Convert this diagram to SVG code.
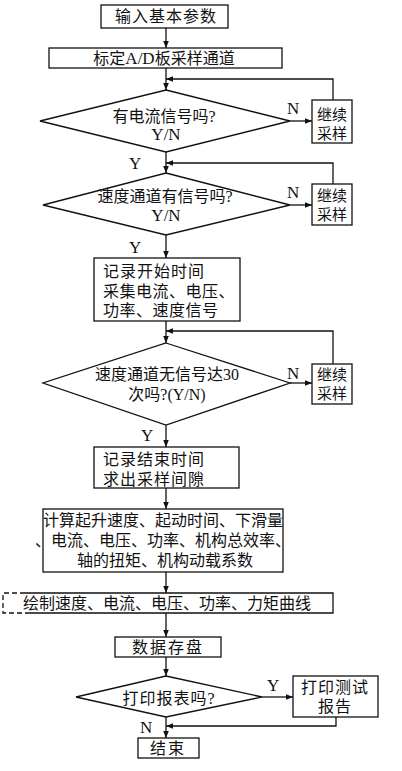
<svg xmlns="http://www.w3.org/2000/svg" width="402" height="771" viewBox="0 0 402 771">
<style>
.b{fill:#fff;stroke:#111;stroke-width:1.3}
.l{fill:none;stroke:#111;stroke-width:1.3}
.t{font-family:"Liberation Serif","Noto Sans CJK SC",serif;font-size:16px;fill:#111}
.s{font-family:"Liberation Serif","Noto Sans CJK SC",serif;font-size:17px;fill:#111}
.k{font-size:15px}
.m{text-anchor:middle}
.r{font-size:17px}
</style>
<defs>
<marker id="a" viewBox="0 0 10 10" refX="10" refY="5" markerWidth="7" markerHeight="7" orient="auto" markerUnits="userSpaceOnUse">
<path d="M0,1 L10,5 L0,9 Z" fill="#111"/>
</marker>
</defs>
<g id="connectors">
<path class="l" d="M166,28 V48" marker-end="url(#a)"/>
<path class="l" d="M166,68 V90" marker-end="url(#a)"/>
<path class="l" d="M290,121 H312" marker-end="url(#a)"/>
<path class="l" d="M333,100 V79 H166" marker-end="url(#a)"/>
<path class="l" d="M166,152 V173" marker-end="url(#a)"/>
<path class="l" d="M290,205 H312" marker-end="url(#a)"/>
<path class="l" d="M333,184 V163 H166" marker-end="url(#a)"/>
<path class="l" d="M166,235 V258" marker-end="url(#a)"/>
<path class="l" d="M166,321 V343" marker-end="url(#a)"/>
<path class="l" d="M290,383 H312" marker-end="url(#a)"/>
<path class="l" d="M333,364 V331 H166" marker-end="url(#a)"/>
<path class="l" d="M166,425 V447" marker-end="url(#a)"/>
<path class="l" d="M166,488 V509" marker-end="url(#a)"/>
<path class="l" d="M166,572 V593" marker-end="url(#a)"/>
<path class="l" d="M166,613 V637" marker-end="url(#a)"/>
<path class="l" d="M166,657 V676" marker-end="url(#a)"/>
<path class="l" d="M262,697 H293" marker-end="url(#a)"/>
<path class="l" d="M336,717 V726 H166" marker-end="url(#a)"/>
<path class="l" d="M166,717 V738" marker-end="url(#a)"/>
<text class="s" x="287" y="114">N</text>
<text class="s" x="129" y="169">Y</text>
<text class="s" x="287" y="198">N</text>
<text class="s" x="129" y="253">Y</text>
<text class="s" x="287" y="379">N</text>
<text class="s" x="141" y="441">Y</text>
<text class="s" x="267" y="691">Y</text>
<text class="s" x="140" y="733">N</text>
</g>
<g id="n1"><rect class="b" x="101" y="5" width="127" height="23"/><text class="t m" x="166" y="22" letter-spacing="1">输入基本参数</text></g>
<g id="n2"><rect class="b" x="49" y="48" width="233" height="20"/><text class="t m" x="164" y="64">标定<tspan class="r">A/D</tspan>板采样通道</text></g>
<g id="d1"><polygon class="b" points="166,90 290,121 166,152 40,121"/><text class="t m" x="164" y="122">有电流信号吗?<tspan class="r" x="166" y="140">Y/N</tspan></text></g>
<g id="c1"><rect class="b" x="312" y="100" width="40" height="43"/><text class="t m k" x="332" y="120">继续<tspan x="332" y="139">采样</tspan></text></g>
<g id="d2"><polygon class="b" points="166,173 290,205 166,235 43,205"/><text class="t m" x="165" y="202">速度通道有信号吗?<tspan class="r" x="166" y="221">Y/N</tspan></text></g>
<g id="c2"><rect class="b" x="312" y="184" width="40" height="41"/><text class="t m k" x="332" y="201">继续<tspan x="332" y="220">采样</tspan></text></g>
<g id="n3"><rect class="b" x="94" y="258" width="146" height="63"/><text class="t" x="103" y="277" letter-spacing="1">记录开始时间<tspan x="103" y="297" letter-spacing="0.5">采集电流、电压、</tspan><tspan x="103" y="316" letter-spacing="0.5">功率、速度信号</tspan></text></g>
<g id="d3"><polygon class="b" points="166,343 290,383 166,425 43,383"/><text class="t m" x="167" y="380">速度通道无信号达30<tspan x="167" y="400">次吗?(Y/N)</tspan></text></g>
<g id="c3"><rect class="b" x="312" y="364" width="40" height="40"/><text class="t m k" x="332" y="380">继续<tspan x="332" y="399">采样</tspan></text></g>
<g id="n4"><rect class="b" x="94" y="447" width="145" height="41"/><text class="t" x="103" y="465" letter-spacing="1">记录结束时间<tspan x="103" y="485">求出采样间隙</tspan></text></g>
<g id="n5"><rect class="b" x="43" y="509" width="240" height="63"/><text class="t m" x="163" y="526">计算起升速度、起动时间、下滑量<tspan x="163" y="546">、电流、电压、功率、机构总效率、</tspan><tspan x="165" y="566">轴的扭矩、机构动载系数</tspan></text></g>
<g id="n6"><path class="l" d="M25,593 H333 V613 H25"/><path class="l" d="M25,593 H3 V613 H25" stroke-dasharray="5,3"/><text class="t m" x="167" y="609" font-size="15.5">绘制速度、电流、电压、功率、力矩曲线</text></g>
<g id="n7"><rect class="b" x="115" y="637" width="106" height="20"/><text class="t m" x="168" y="653" letter-spacing="2">数据存盘</text></g>
<g id="d4"><polygon class="b" points="166,676 262,697 166,717 76,697"/><text class="t m" x="169" y="704" letter-spacing="1">打印报表吗?</text></g>
<g id="n8"><rect class="b" x="293" y="676" width="85" height="41"/><text class="t m" x="335" y="693" letter-spacing="1">打印测试<tspan x="335" y="712">报告</tspan></text></g>
<g id="n9"><rect class="b" x="138" y="738" width="61" height="20"/><text class="t m" x="168" y="754" letter-spacing="2">结束</text></g>
</svg>
